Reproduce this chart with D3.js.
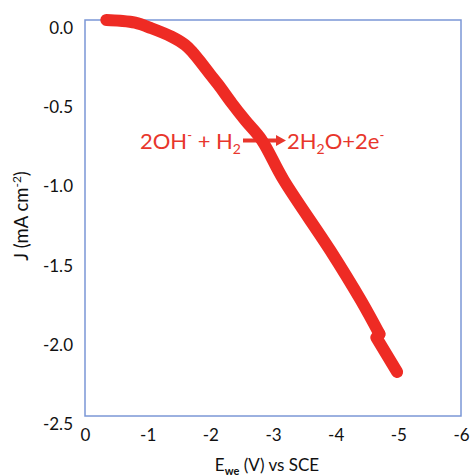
<!DOCTYPE html>
<html>
<head>
<meta charset="utf-8">
<script src="https://cdn.jsdelivr.net/npm/d3@7"></script>
<style>
  html, body { margin: 0; padding: 0; background: #fff; }
  svg { display: block; font-family: Lato, "Open Sans", sans-serif; }
</style>
</head>
<body>
<svg id="chart" width="470" height="476"></svg>
<script>
// ---- data ----
const potential = [-0.34, -0.56, -0.80, -1.06, -1.38, -1.60, -1.72, -1.86, -2.00, -2.13, -2.34, -2.56, -2.82, -3.17, -3.91, -4.40, -4.70, -4.65, -4.98];
const currentDensity = [0.0, -0.005, -0.017, -0.052, -0.105, -0.158, -0.205, -0.273, -0.345, -0.410, -0.524, -0.635, -0.758, -1.010, -1.452, -1.768, -1.983, -2.005, -2.222];
const xTicks = [0, -1, -2, -3, -4, -5, -6];
const yTicks = [0.0, -0.5, -1.0, -1.5, -2.0, -2.5];

const svg = d3.select("#chart");
const frame = { left: 85, right: 461, top: 20, bottom: 416 };

const x = d3.scaleLinear().domain([0, -6]).range([frame.left, frame.right]);
const y = d3.scaleLinear().domain([0, -2.5]).range([frame.top, frame.bottom]);

const red = "#ee2b24";
const textRed = "#e8362c";
const blue = "#7b97d6";

// frame
svg.append("rect")
  .attr("x", frame.left).attr("y", frame.top)
  .attr("width", frame.right - frame.left).attr("height", frame.bottom - frame.top)
  .attr("fill", "none").attr("stroke", blue).attr("stroke-width", 1.5);

// axes
const xAxis = svg.append("g")
  .attr("transform", `translate(0,${frame.bottom})`)
  .call(d3.axisBottom(x).tickValues(xTicks).tickSize(0).tickPadding(13)
    .tickFormat(d => d3.format("d")(d).replace("−", "-")));
const yAxis = svg.append("g")
  .attr("transform", `translate(${frame.left},0)`)
  .call(d3.axisLeft(y).tickValues(yTicks).tickSize(0).tickPadding(12)
    .tickFormat(d => d3.format(".1f")(d).replace("−", "-")));
[xAxis, yAxis].forEach(g => {
  g.select(".domain").remove();
  g.selectAll("text").attr("font-size", 17).attr("fill", "#111")
    .attr("font-family", "Lato, 'Open Sans', sans-serif");
});
yAxis.selectAll("text").attr("y", 8);

// axis titles
const xt = svg.append("text").attr("x", 267).attr("y", 471)
  .attr("text-anchor", "middle").attr("font-size", 17).attr("fill", "#111");
xt.append("tspan").text("E");
xt.append("tspan").attr("font-size", 11).attr("font-weight", "bold").attr("dy", 4).text("we");
xt.append("tspan").attr("dy", -4).text(" (V) vs SCE");

const yt = svg.append("text")
  .attr("transform", "translate(28,216) rotate(-90)")
  .attr("text-anchor", "middle").attr("font-size", 18.5).attr("fill", "#111");
yt.append("tspan").text("J (mA cm");
yt.append("tspan").attr("font-size", 12).attr("dy", -7).text("-2");
yt.append("tspan").attr("dy", 7).text(")");

// reaction annotation
const ann = svg.append("g").attr("fill", textRed).attr("font-size", 22);
const t1 = ann.append("text").attr("x", 140).attr("y", 149);
t1.append("tspan").text("2OH");
t1.append("tspan").attr("font-size", 13).attr("dy", -9).text("-");
t1.append("tspan").attr("dy", 9).text(" + H");
t1.append("tspan").attr("font-size", 14).attr("dy", 5).text("2");

const t2 = ann.append("text").attr("x", 287).attr("y", 149);
t2.append("tspan").text("2H");
t2.append("tspan").attr("font-size", 14).attr("dy", 5).text("2");
t2.append("tspan").attr("dy", -5).text("O+2e");
t2.append("tspan").attr("font-size", 13).attr("dy", -9).text("-");

// arrow (drawn beneath the curve)
svg.append("line").attr("x1", 243).attr("x2", 278).attr("y1", 140.5).attr("y2", 140.5)
  .attr("stroke", textRed).attr("stroke-width", 4);
svg.append("path").attr("d", "M276,135 L286,140.5 L276,146 Z").attr("fill", textRed);

// curve: smooth main sweep, plus the small step near the end drawn straight
const pts = potential.map((e, i) => [e, currentDensity[i]]);
const kink = 16;
const style = p => p.attr("fill", "none").attr("stroke", red).attr("stroke-width", 12)
  .attr("stroke-linecap", "round").attr("stroke-linejoin", "round");
svg.append("path")
  .datum(pts.slice(0, kink + 1))
  .attr("d", d3.line().x(d => x(d[0])).y(d => y(d[1])).curve(d3.curveCatmullRom.alpha(0.5)))
  .call(style);
svg.append("path")
  .datum(pts.slice(kink))
  .attr("d", d3.line().x(d => x(d[0])).y(d => y(d[1])).curve(d3.curveLinear))
  .call(style);
</script>
</body>
</html>
